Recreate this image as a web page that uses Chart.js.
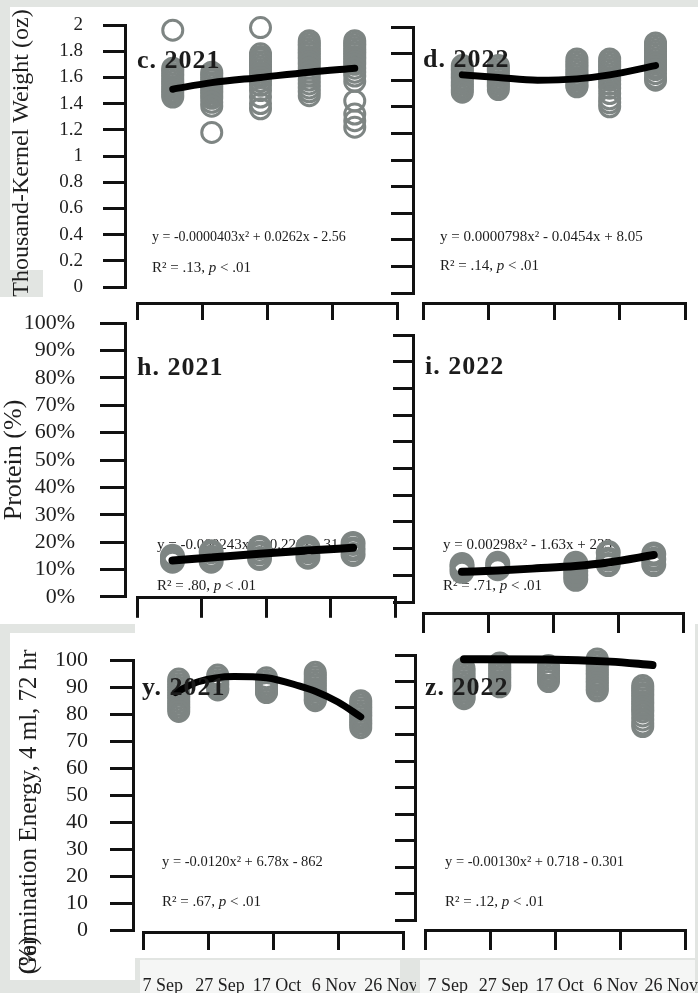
<!DOCTYPE html>
<html>
<head>
<meta charset="utf-8">
<title>Kernel weight, protein and germination energy by harvest date</title>
<script src="https://cdn.jsdelivr.net/npm/chart.js@4.4.1/dist/chart.umd.min.js"></script>
<style>
  html, body { margin: 0; padding: 0; }
  body { width: 698px; height: 993px; position: relative; overflow: hidden; background: #e2e5e2; }
  .sheet { position: absolute; background: #fff; }
  .strip { position: absolute; background: #f5f6f5; }
  canvas { position: absolute; }
</style>
</head>
<body>
<div class="sheet" style="left:10px;top:7px;width:688px;height:263px"></div>
<div class="sheet" style="left:43px;top:270px;width:655px;height:27px"></div>
<div class="sheet" style="left:0;top:297px;width:698px;height:327px"></div>
<div class="sheet" style="left:10px;top:633px;width:125px;height:347px"></div>
<div class="sheet" style="left:135px;top:620px;width:560px;height:338px"></div>
<div class="strip" style="left:140px;top:960px;width:260px;height:33px"></div>
<div class="strip" style="left:420px;top:960px;width:275px;height:33px"></div>

<canvas id="c" width="410" height="338" style="left:0;top:-16px"></canvas>
<canvas id="d" width="318" height="338" style="left:380px;top:-16px"></canvas>
<canvas id="h" width="410" height="350" style="left:0;top:285px"></canvas>
<canvas id="i" width="318" height="350" style="left:380px;top:285px"></canvas>
<canvas id="y" width="416" height="368" style="left:0;top:625px"></canvas>
<canvas id="z" width="318" height="368" style="left:380px;top:625px"></canvas>

<script>
// harvest date as day of year on every x axis
const DAY_TICKS = [250, 270, 290, 310, 330];
const DAY_LABELS = ['7 Sep', '27 Sep', '17 Oct', '6 Nov', '26 Nov'];

const TKW_TICKS = [0, 0.2, 0.4, 0.6, 0.8, 1, 1.2, 1.4, 1.6, 1.8, 2];
const TKW_LABELS = ['0', '0.2', '0.4', '0.6', '0.8', '1', '1.2', '1.4', '1.6', '1.8', '2'];
const PCT_TICKS = [0, 10, 20, 30, 40, 50, 60, 70, 80, 90, 100];
const PROTEIN_LABELS = ['0%', '10%', '20%', '30%', '40%', '50%', '60%', '70%', '80%', '90%', '100%'];
const GE_LABELS = ['0', '10', '20', '30', '40', '50', '60', '70', '80', '90', '100'];

const HARVEST_2021 = [261, 273, 288, 303, 317];
const HARVEST_2022 = [262, 273, 297, 307, 321];
const HARVEST_2022_GE = [262, 273, 288, 303, 317];

// thousand-kernel weight (oz), one list per harvest date
const TKW_2021 = [
  [1.96, 1.67, 1.65, 1.63, 1.61, 1.59, 1.57, 1.55, 1.53, 1.51, 1.49, 1.47, 1.45],
  [1.64, 1.62, 1.60, 1.58, 1.56, 1.54, 1.52, 1.50, 1.48, 1.46, 1.44, 1.41, 1.38, 1.18],
  [1.98, 1.78, 1.76, 1.74, 1.72, 1.70, 1.68, 1.66, 1.64, 1.62, 1.60, 1.57, 1.54, 1.50, 1.45, 1.40, 1.36],
  [1.88, 1.86, 1.84, 1.82, 1.80, 1.78, 1.76, 1.74, 1.72, 1.70, 1.67, 1.64, 1.61, 1.58, 1.55, 1.52, 1.49, 1.46],
  [1.88, 1.86, 1.84, 1.82, 1.80, 1.78, 1.76, 1.74, 1.72, 1.70, 1.67, 1.64, 1.61, 1.57, 1.42, 1.32, 1.27, 1.22]
];
const TKW_2021_FIT_X = [261, 273, 288, 303, 317];
const TKW_2021_FIT_Y = [1.51, 1.56, 1.60, 1.64, 1.67];

const TKW_2022 = [
  [1.71, 1.69, 1.67, 1.65, 1.63, 1.61, 1.59, 1.57, 1.55, 1.53, 1.51],
  [1.71, 1.69, 1.67, 1.65, 1.63, 1.61, 1.59, 1.57, 1.55, 1.53],
  [1.76, 1.74, 1.72, 1.70, 1.68, 1.66, 1.64, 1.62, 1.60, 1.58, 1.56, 1.55],
  [1.76, 1.74, 1.72, 1.70, 1.68, 1.66, 1.64, 1.62, 1.60, 1.57, 1.54, 1.50, 1.46, 1.43, 1.40],
  [1.88, 1.86, 1.84, 1.82, 1.80, 1.78, 1.76, 1.74, 1.72, 1.70, 1.68, 1.65, 1.62, 1.60]
];
const TKW_2022_FIT_X = [262, 273, 285, 297, 307, 321];
const TKW_2022_FIT_Y = [1.64, 1.62, 1.60, 1.61, 1.64, 1.71];

// protein (%)
const PROTEIN_2021 = [
  [13.0, 14.0, 14.8], [13.0, 14.5, 16.5], [14.0, 16.0, 18.0], [14.5, 16.5, 18.0], [15.5, 17.5, 19.5]
];
const PROTEIN_2021_FIT_X = [261, 273, 288, 303, 317];
const PROTEIN_2021_FIT_Y = [13.3, 14.4, 15.7, 16.9, 17.9];

const PROTEIN_2022 = [
  [11.5, 13.0, 14.0], [12.5, 13.5, 14.5], [8.5, 10.0, 11.5, 13.0, 14.5], [14.0, 16.0, 18.5], [14.0, 16.0, 18.0]
];
const PROTEIN_2022_FIT_X = [262, 273, 285, 297, 307, 321];
const PROTEIN_2022_FIT_Y = [11.3, 11.8, 12.6, 13.5, 14.8, 17.6];

// germination energy (%)
const GE_2021 = [
  [93, 92, 91, 90, 89, 88, 87, 86, 85, 84, 83, 82, 81],
  [94.5, 93.5, 92.5, 91.5, 90.5, 89.5, 89],
  [93.5, 92.5, 91.5, 90.5, 89.5, 88.5, 88],
  [95.5, 94.5, 93.5, 92.5, 91.5, 90.5, 89.5, 88.5, 87.5, 86.5, 85.5, 85],
  [85, 84, 83, 82, 81, 80, 79, 78, 77, 76, 75]
];
const GE_2021_FIT_X = [260, 267, 278, 288, 298, 303, 310, 317];
const GE_2021_FIT_Y = [88, 92, 94, 93.5, 90.5, 88.5, 84.5, 79];

const GE_2022 = [
  [95, 94, 93, 92, 91, 90, 89, 88, 87, 86, 85, 84, 83.5],
  [97, 96, 95, 94, 93, 92, 91, 90, 89, 88],
  [96, 95, 94, 93, 92, 91, 90],
  [98.5, 97.5, 96.5, 95.5, 94.5, 93.5, 92.5, 91.5, 90.5, 89.5, 88.5, 87.5, 86.5],
  [88.5, 87.5, 86.5, 85.5, 84.5, 83.5, 82.5, 81.5, 80.5, 79.5, 78.5, 77, 75.5, 74, 73]
];
const GE_2022_FIT_X = [262, 287, 307, 320];
const GE_2022_FIT_Y = [98.4, 98.3, 97.5, 96.2];

const SERIF = "'Liberation Serif', 'Times New Roman', serif";
const INK = '#111';
const RING = '#7e8583';

// texts placed on the page (page pixels, left edge / middle)
function tag(x, y, t) { return { x, y, parts: [{ text: t, font: 'bold 26px ' + SERIF, spacing: '1px' }] }; }
function eq(x, y, size, t) { return { x, y, parts: [{ text: t, font: size + 'px ' + SERIF }] }; }
function r2(x, y, v) {
  const f = '15px ' + SERIF;
  return { x, y, parts: [{ text: 'R² = ' + v + ', ', font: f }, { text: 'p', font: 'italic ' + f }, { text: ' < .01', font: f }] };
}
const NOTES = {
  c: { under: [eq(152, 237, 14, 'y = -0.0000403x² + 0.0262x - 2.56'), r2(152, 268, '.13')], over: [tag(137, 61, 'c. 2021')] },
  d: { under: [eq(440, 237, 15, 'y = 0.0000798x² - 0.0454x + 8.05'), r2(440, 266, '.14')], over: [tag(423, 60, 'd. 2022')] },
  h: { under: [eq(157, 545, 15, 'y = -0.000243x² + 0.226x - 31.3'), r2(157, 586, '.80')], over: [tag(137, 368, 'h. 2021')] },
  i: { under: [eq(443, 545, 15, 'y = 0.00298x² - 1.63x + 233'), r2(443, 586, '.71')], over: [tag(425, 367, 'i. 2022')] },
  y: { under: [eq(162, 862, 14.5, 'y = -0.0120x² + 6.78x - 862'), r2(162, 902, '.67')], over: [tag(142, 688, 'y. 2021')] },
  z: { under: [eq(445, 862, 14.5, 'y = -0.00130x² + 0.718 - 0.301'), r2(445, 902, '.12')], over: [tag(425, 688, 'z. 2022')] }
};

function drawNotes(chart, items) {
  const ctx = chart.ctx;
  const ox = chart.canvas.offsetLeft, oy = chart.canvas.offsetTop;
  ctx.save();
  ctx.textBaseline = 'middle';
  ctx.textAlign = 'left';
  ctx.fillStyle = '#1c1c1c';
  items.forEach(function (it) {
    let x = it.x - ox;
    it.parts.forEach(function (p) {
      ctx.font = p.font;
      ctx.letterSpacing = p.spacing || '0px';
      ctx.fillText(p.text, x, it.y - oy);
      x += ctx.measureText(p.text).width;
    });
  });
  ctx.restore();
}
const notesPlugin = {
  id: 'notes',
  beforeDatasetsDraw: function (chart) { drawNotes(chart, NOTES[chart.canvas.id].under); },
  afterDatasetsDraw: function (chart) { drawNotes(chart, NOTES[chart.canvas.id].over); }
};

function rings(dates, values) {
  const pts = [];
  dates.forEach(function (d, i) { values[i].forEach(function (v) { pts.push({ x: d, y: v }); }); });
  return pts;
}
function curve(xs, ys) { return xs.map(function (x, i) { return { x: x, y: ys[i] }; }); }

// empty axis that only takes room, to detach the axis lines from the plot corner
function spacer(pos, size) {
  return {
    type: 'linear', position: pos, weight: 0, display: true,
    ticks: { display: false }, grid: { display: false }, border: { display: false },
    afterFit: function (s) { if (s.isHorizontal()) s.height = size; else s.width = size; }
  };
}

function panel(id, p) {
  const scales = {
    x: {
      type: 'linear', position: 'bottom', weight: 1, min: 250, max: 330,
      afterBuildTicks: function (s) { s.ticks = DAY_TICKS.map(function (v) { return { value: v }; }); },
      afterFit: function (s) { s.height = p.xH; s.paddingLeft = s.paddingRight = 0; },
      ticks: { display: false },
      grid: { drawOnChartArea: false, tickLength: p.xTick, lineWidth: 3, color: INK },
      border: { width: 3, color: INK }
    },
    xs: spacer('bottom', p.gapB),
    xt: spacer('top', p.gapT),
    y: {
      type: 'linear', position: 'left', weight: 1, min: 0, max: p.yTicks[p.yTicks.length - 1],
      afterBuildTicks: function (s) { s.ticks = p.yTicks.map(function (v) { return { value: v }; }); },
      afterFit: function (s) { s.width = p.yW; },
      ticks: {
        display: !!p.yLabels, autoSkip: false, padding: p.yPad || 0, color: '#1e1e1e',
        font: { family: SERIF, size: p.yFont || 12 },
        callback: function (v, i) { return p.yLabels ? p.yLabels[i] : ''; }
      },
      grid: { drawOnChartArea: false, tickLength: p.yTick, lineWidth: 3, color: INK },
      border: { width: 3, color: INK }
    },
    ys: spacer('left', p.gapL)
  };
  if (p.x2) {
    // date labels sit on their own, slightly narrower scale, as in the source figure
    scales.x2 = {
      type: 'linear', position: 'bottom', weight: 2, min: p.x2[0], max: p.x2[1],
      afterBuildTicks: function (s) { s.ticks = DAY_TICKS.map(function (v) { return { value: v }; }); },
      afterFit: function (s) { s.height = p.x2H; s.paddingLeft = s.paddingRight = 0; },
      ticks: {
        autoSkip: false, maxRotation: 0, minRotation: 0, padding: p.x2Pad, color: '#1e1e1e',
        font: { family: SERIF, size: 18 },
        callback: function (v, i) { return DAY_LABELS[i]; }
      },
      grid: { display: false, drawTicks: false }, border: { display: false }
    };
  }
  new Chart(document.getElementById(id), {
    type: 'scatter',
    data: {
      datasets: [
        {
          data: curve(p.fitX, p.fitY), xAxisID: 'x', yAxisID: 'y', showLine: true,
          borderColor: '#000', borderWidth: p.lineW, pointRadius: 0,
          cubicInterpolationMode: 'monotone', borderCapStyle: 'round', order: 0, clip: false
        },
        {
          data: rings(p.dates, p.values), xAxisID: 'x', yAxisID: 'y', showLine: false,
          pointStyle: 'circle', pointRadius: p.ringR, pointBorderWidth: p.ringW,
          pointBorderColor: RING, pointBackgroundColor: 'rgba(0,0,0,0)', order: 1, clip: false
        }
      ]
    },
    options: {
      responsive: false, animation: false, devicePixelRatio: 1, events: [],
      layout: { padding: { left: 0, top: 0, right: p.padR, bottom: 0 } },
      scales: scales,
      plugins: {
        legend: { display: false },
        tooltip: { enabled: false },
        title: p.title ? {
          display: true, position: 'left', text: p.title, align: p.titleAlign || 'center', color: '#1e1e1e',
          font: { family: SERIF, size: p.titleSize, weight: 'normal', lineHeight: 0 },
          padding: { top: p.titleX, bottom: 0 }
        } : { display: false }
      }
    },
    plugins: [notesPlugin]
  });
}

panel('c', {
  dates: HARVEST_2021, values: TKW_2021, fitX: TKW_2021_FIT_X, fitY: TKW_2021_FIT_Y,
  yTicks: TKW_TICKS, yLabels: TKW_LABELS, yFont: 19, yPad: 20, yTick: 22, yW: 103, gapL: 12,
  gapT: 41, gapB: 16, xH: 19, xTick: 17, padR: 7, ringR: 10, ringW: 3, lineW: 7,
  title: 'Thousand-Kernel Weight (oz)', titleSize: 24, titleX: 22
});
panel('d', {
  dates: HARVEST_2022, values: TKW_2022, fitX: TKW_2022_FIT_X, fitY: TKW_2022_FIT_Y,
  yTicks: TKW_TICKS, yTick: 22, yW: 33, gapL: 10,
  gapT: 43, gapB: 10, xH: 19, xTick: 17, padR: 10, ringR: 10, ringW: 3, lineW: 7
});
panel('h', {
  dates: HARVEST_2021, values: PROTEIN_2021, fitX: PROTEIN_2021_FIT_X, fitY: PROTEIN_2021_FIT_Y,
  yTicks: PCT_TICKS, yLabels: PROTEIN_LABELS, yFont: 22, yPad: 25, yTick: 25, yW: 111, gapL: 12,
  gapT: 25, gapB: 1, xH: 22, xTick: 20, padR: 7, ringR: 10, ringW: 5, lineW: 8,
  title: 'Protein (%)', titleSize: 26, titleX: 14
});
panel('i', {
  dates: HARVEST_2022, values: PROTEIN_2022, fitX: PROTEIN_2022_FIT_X, fitY: PROTEIN_2022_FIT_Y,
  yTicks: PCT_TICKS, yTick: 20, yW: 33, gapL: 10,
  gapT: 50, gapB: 11, xH: 22, xTick: 20, padR: 10, ringR: 10, ringW: 5, lineW: 8
});
panel('y', {
  dates: HARVEST_2021, values: GE_2021, fitX: GE_2021_FIT_X, fitY: GE_2021_FIT_Y,
  yTicks: PCT_TICKS, yLabels: GE_LABELS, yFont: 22, yPad: 22, yTick: 23, yW: 104, gapL: 10,
  gapT: 23, gapB: 2, xH: 20, xTick: 18, padR: 11, ringR: 10, ringW: 3, lineW: 7,
  x2: [243.04, 334.17], x2H: 41, x2Pad: 23,
  title: ['   Germination Energy, 4 ml, 72 hr', '   (%)'], titleSize: 25, titleX: 29, titleAlign: 'start'
});
panel('z', {
  dates: HARVEST_2022_GE, values: GE_2022, fitX: GE_2022_FIT_X, fitY: GE_2022_FIT_Y,
  yTicks: PCT_TICKS, yTick: 20, yW: 35, gapL: 10,
  gapT: 30, gapB: 10, xH: 20, xTick: 20, padR: 9, ringR: 10, ringW: 3, lineW: 8,
  x2: [241.9, 334.9], x2H: 43, x2Pad: 25
});
</script>
</body>
</html>
